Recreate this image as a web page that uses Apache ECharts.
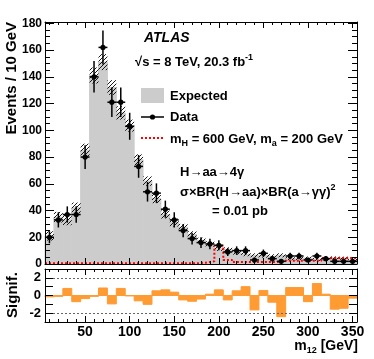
<!DOCTYPE html>
<html>
<head>
<meta charset="utf-8">
<script src="https://cdn.jsdelivr.net/npm/echarts@6/dist/echarts.min.js"></script>
<style>
  html, body { margin: 0; padding: 0; background: #fff; }
  #chart { width: 374px; height: 359px; }
</style>
</head>
<body>
<div id="chart"></div>
<script>
(function () {
  // bins of m12, 10 GeV wide
  var binCenters = [10, 20, 30, 40, 50, 60, 70, 80, 90, 100, 110, 120, 130, 140, 150, 160, 170, 180,
    190, 200, 210, 220, 230, 240, 250, 260, 270, 280, 290, 300, 310, 320, 330, 340, 350];
  var binWidth = 10;

  // observed events and their error bars
  var dataVals = [20, 33, 37, 37, 80, 140, 162, 121, 121, 103, 73, 54, 53, 41, 33, 25, 19, 16,
    15, 14, 9, 10, 10, 3, 8, 4, 2, 6, 6, 3, 6, 4, 2, 2, 2];
  var dataErr = [4.5, 5.7, 6.1, 6.1, 8.9, 11.8, 12.7, 11, 11, 10.1, 8.5, 7.3, 7.3, 6.4, 5.7, 5, 4.4, 4,
    3.9, 3.7, 3, 3.2, 3.2, 1.7, 2.8, 2, 1.4, 2.4, 2.4, 1.7, 2.4, 2, 1.4, 1.4, 1.4];

  // expected background and its uncertainty band
  var expVals = [21, 35, 33, 42, 85, 141, 151, 132, 113, 103.5, 78, 62, 49, 37, 31, 27.5, 22, 17.7,
    15, 11.8, 11, 8.5, 7.3, 6.5, 6.2, 5.8, 6.5, 4, 4, 4.4, 3.5, 3.9, 4.5, 4.3, 2.8];
  var expErr = [3.5, 4, 4, 4, 5, 6, 6, 5.5, 5, 4.5, 4, 3.5, 3.5, 3, 3, 2.5, 2.5, 2,
    2, 2, 1.5, 1.5, 1.5, 1.5, 1.5, 1.5, 1.5, 1.2, 1.2, 1.2, 1.2, 1.2, 1.2, 1.2, 1];

  // signal mH = 600 GeV, ma = 200 GeV
  var signalVals = [0.5, 0.5, 0.5, 0.5, 0.5, 0.5, 0.5, 0.5, 0.5, 0.5, 0.5, 0.5, 0.5, 0.5, 0.5, 0.5, 0.5, 1,
    2, 13.7, 3, 1.5, 1.5, 1.5, 1.5, 1.5, 2.5, 2.5, 2.5, 2.5, 2.5, 4.5, 4.5, 4.5, 4.5];

  // significance panel
  var sigVals = [-0.15, -0.1, 0.8, -0.7, -0.35, -0.1, 0.85, -0.95, 0.8, -0.05, -0.6, -1.0, 0.53, 0.64, 0.38, -0.5, -0.65, -0.4,
    0.15, 0.64, -0.5, 0.53, 1.0, -1.63, 0.57, -0.76, -2.4, 0.9, 0.9, -0.7, 1.36, 0.15, -1.55, -1.45, -0.3];
  var guideLevels = [2, -2];

  var FONT = "'Liberation Sans', Arial, Helvetica, sans-serif";

  var chartDom = document.getElementById('chart');
  var myChart = echarts.init(chartDom);

  // hatch pattern for the uncertainty band
  var hatch = document.createElement('canvas');
  hatch.width = 4;
  hatch.height = 4;
  var hc = hatch.getContext('2d');
  hc.strokeStyle = '#000';
  hc.lineWidth = 0.9;
  hc.beginPath();
  hc.moveTo(0, 4); hc.lineTo(4, 0);
  hc.moveTo(-1, 1); hc.lineTo(1, -1);
  hc.moveTo(3, 5); hc.lineTo(5, 3);
  hc.stroke();

  function renderFill(params, api) {
    var c = api.value(0);
    var p0 = api.coord([c - binWidth / 2, api.value(1)]);
    var p1 = api.coord([c + binWidth / 2, 0]);
    return {
      type: 'rect',
      shape: { x: p0[0], y: Math.min(p0[1], p1[1]), width: p1[0] - p0[0], height: Math.abs(p1[1] - p0[1]) },
      style: { fill: '#cccccc', stroke: '#cccccc', lineWidth: 1 }
    };
  }

  function renderBand(params, api) {
    var c = api.value(0);
    var p0 = api.coord([c - binWidth / 2, api.value(2)]);
    var p1 = api.coord([c + binWidth / 2, api.value(1)]);
    return {
      type: 'rect',
      shape: { x: p0[0], y: p0[1], width: p1[0] - p0[0], height: p1[1] - p0[1] },
      style: { fill: { image: hatch, repeat: 'repeat' } }
    };
  }

  function renderData(params, api) {
    var c = api.value(0), v = api.value(1), e = api.value(2);
    var pc = api.coord([c, v]);
    var pl = api.coord([c - binWidth / 2, v]);
    var pr = api.coord([c + binWidth / 2, v]);
    var pt = api.coord([c, v + e]);
    var pb = api.coord([c, Math.max(v - e, 0)]);
    var st = { stroke: '#000', lineWidth: 1.5 };
    return {
      type: 'group',
      children: [
        { type: 'line', shape: { x1: pl[0], y1: pc[1], x2: pr[0], y2: pc[1] }, style: st },
        { type: 'line', shape: { x1: pc[0], y1: pt[1], x2: pc[0], y2: pb[1] }, style: st },
        { type: 'circle', shape: { cx: pc[0], cy: pc[1], r: 2.6 }, style: { fill: '#000' } }
      ]
    };
  }

  function renderSig(params, api) {
    var c = api.value(0);
    var p0 = api.coord([c - binWidth / 2, api.value(1)]);
    var p1 = api.coord([c + binWidth / 2, 0]);
    return {
      type: 'rect',
      shape: { x: p0[0], y: Math.min(p0[1], p1[1]), width: p1[0] - p0[0], height: Math.abs(p1[1] - p0[1]) },
      style: { fill: '#ff9b33', stroke: '#ff9b33', lineWidth: 1 }
    };
  }

  // step outline for the signal histogram
  var signalSteps = [];
  binCenters.forEach(function (c, i) {
    signalSteps.push([c - binWidth / 2, signalVals[i]]);
    signalSteps.push([c + binWidth / 2, signalVals[i]]);
  });

  function xAxisCfg(grid, pos, showLabels) {
    return {
      type: 'value', gridIndex: grid, position: pos,
      min: 5, max: 355, splitNumber: 7, minInterval: 50, maxInterval: 50,
      axisLine: { show: true, onZero: false, lineStyle: { color: '#000', width: 1 } },
      axisTick: { show: true, inside: true, length: 6, lineStyle: { color: '#000' } },
      minorTick: { show: true, splitNumber: 5, length: 3, lineStyle: { color: '#000' } },
      splitLine: { show: false },
      axisLabel: {
        show: showLabels, margin: 3, color: '#000', fontFamily: FONT, fontWeight: 'bold', fontSize: 14,
        formatter: function (v) { return v % 50 === 0 ? v : ''; }
      },
      z: 10
    };
  }

  function yMainCfg(pos, showLabels) {
    return {
      type: 'value', gridIndex: 0, position: pos,
      min: 0, max: 181, interval: 20,
      axisLine: { show: true, onZero: false, lineStyle: { color: '#000', width: 1 } },
      axisTick: { show: true, inside: true, length: 9, lineStyle: { color: '#000' } },
      minorTick: { show: true, splitNumber: 4, length: 5, lineStyle: { color: '#000' } },
      splitLine: { show: false },
      axisLabel: {
        show: showLabels, margin: 3, color: '#000', fontFamily: FONT, fontWeight: 'bold', fontSize: 12,
        formatter: function (v) { return v % 20 === 0 ? v : ''; }
      },
      z: 10
    };
  }

  function ySigCfg(pos, showLabels) {
    return {
      type: 'value', gridIndex: 1, position: pos,
      min: -3, max: 3, interval: 1,
      axisLine: { show: true, onZero: false, lineStyle: { color: '#000', width: 1 } },
      axisTick: { show: true, inside: true, length: 8, lineStyle: { color: '#000' } },
      splitLine: { show: false },
      axisLabel: {
        show: showLabels, margin: 4, color: '#000', fontFamily: FONT, fontWeight: 'bold', fontSize: 13,
        formatter: function (v) { return v % 2 === 0 ? v : ''; }
      },
      z: 10
    };
  }

  var txt = { fill: '#000', font: 'bold 13px ' + FONT };

  var option = {
    animation: false,
    backgroundColor: '#fff',
    grid: [
      { left: 45, right: 17, top: 22, height: 242 },
      { left: 45, right: 17, top: 269, height: 53 }
    ],
    xAxis: [
      xAxisCfg(0, 'bottom', false),
      xAxisCfg(0, 'top', false),
      xAxisCfg(1, 'bottom', true),
      xAxisCfg(1, 'top', false)
    ],
    yAxis: [
      yMainCfg('left', true),
      yMainCfg('right', false),
      ySigCfg('left', true),
      ySigCfg('right', false)
    ],
    series: [
      {
        name: 'Expected', type: 'custom', xAxisIndex: 0, yAxisIndex: 0, z: 1, silent: true,
        renderItem: renderFill,
        data: binCenters.map(function (c, i) { return [c, expVals[i]]; })
      },
      {
        name: 'Uncertainty', type: 'custom', xAxisIndex: 0, yAxisIndex: 0, z: 2, silent: true,
        renderItem: renderBand,
        data: binCenters.map(function (c, i) { return [c, expVals[i] - expErr[i], expVals[i] + expErr[i]]; })
      },
      {
        name: 'Signal', type: 'line', xAxisIndex: 0, yAxisIndex: 0, z: 3, silent: true,
        showSymbol: false, symbol: 'none',
        lineStyle: { color: '#ff0000', width: 2, type: [2, 2] },
        data: signalSteps
      },
      {
        name: 'Data', type: 'custom', xAxisIndex: 0, yAxisIndex: 0, z: 4, silent: true,
        renderItem: renderData,
        data: binCenters.map(function (c, i) { return [c, dataVals[i], dataErr[i]]; })
      },
      {
        name: 'Signif.', type: 'custom', xAxisIndex: 2, yAxisIndex: 2, z: 2, silent: true,
        renderItem: renderSig,
        data: binCenters.map(function (c, i) { return [c, sigVals[i]]; }),
        markLine: {
          silent: true, symbol: 'none', label: { show: false },
          lineStyle: { color: '#666', type: [2, 2], width: 1 },
          data: guideLevels.map(function (v) { return { yAxis: v }; })
        }
      }
    ],
    graphic: [
      { type: 'text', x: 144, y: 38, style: { text: 'ATLAS', fill: '#000', font: 'italic bold 14px ' + FONT, textVerticalAlign: 'middle', verticalAlign: 'middle' } },
      {
        type: 'text', x: 135, y: 62,
        style: {
          text: '{a|√s = 8 TeV, 20.3 fb}{s|-1}', verticalAlign: 'middle', textVerticalAlign: 'middle',
          rich: {
            a: { fill: '#000', font: 'bold 13px ' + FONT, lineHeight: 18 },
            s: { fill: '#000', font: 'bold 9px ' + FONT, lineHeight: 9, verticalAlign: 'top' }
          }
        }
      },
      { type: 'rect', shape: { x: 141, y: 88, width: 23, height: 15 }, style: { fill: '#cccccc' } },
      { type: 'text', x: 170, y: 96, style: Object.assign({ text: 'Expected', verticalAlign: 'middle', textVerticalAlign: 'middle' }, txt) },
      { type: 'line', shape: { x1: 141, y1: 117, x2: 164, y2: 117 }, style: { stroke: '#000', lineWidth: 1.5 } },
      { type: 'circle', shape: { cx: 152.5, cy: 117, r: 2.6 }, style: { fill: '#000' } },
      { type: 'text', x: 170, y: 117, style: Object.assign({ text: 'Data', verticalAlign: 'middle', textVerticalAlign: 'middle' }, txt) },
      { type: 'line', shape: { x1: 141, y1: 138, x2: 164, y2: 138 }, style: { stroke: '#ff0000', lineWidth: 2, lineDash: [2, 2] } },
      {
        type: 'text', x: 170, y: 139,
        style: {
          text: '{a|m}{b|H}{a| = 600 GeV, m}{b|a}{a| = 200 GeV}', verticalAlign: 'middle', textVerticalAlign: 'middle',
          rich: {
            a: { fill: '#000', font: 'bold 13px ' + FONT, lineHeight: 18 },
            b: { fill: '#000', font: 'bold 9px ' + FONT, lineHeight: 9, verticalAlign: 'bottom' }
          }
        }
      },
      { type: 'text', x: 180, y: 172, style: Object.assign({ text: 'H→aa→4γ', verticalAlign: 'middle', textVerticalAlign: 'middle' }, txt) },
      {
        type: 'text', x: 180, y: 192,
        style: {
          text: '{a|σ×BR(H→aa)×BR(a→γγ)}{s|2}', verticalAlign: 'middle', textVerticalAlign: 'middle',
          rich: {
            a: { fill: '#000', font: 'bold 13px ' + FONT, lineHeight: 18 },
            s: { fill: '#000', font: 'bold 9px ' + FONT, lineHeight: 9, verticalAlign: 'top' }
          }
        }
      },
      { type: 'text', x: 212, y: 211, style: Object.assign({ text: '= 0.01 pb', verticalAlign: 'middle', textVerticalAlign: 'middle' }, txt) },
      {
        type: 'text', x: 12, y: 22, rotation: Math.PI / 2,
        style: { text: 'Events / 10 GeV', fill: '#000', font: 'bold 15px ' + FONT, align: 'right', textAlign: 'right', verticalAlign: 'middle', textVerticalAlign: 'middle' }
      },
      {
        type: 'text', x: 13, y: 295, rotation: Math.PI / 2,
        style: { text: 'Signif.', fill: '#000', font: 'bold 15px ' + FONT, align: 'center', textAlign: 'center', verticalAlign: 'middle', textVerticalAlign: 'middle' }
      },
      {
        type: 'text', x: 358, y: 346,
        style: {
          text: '{a|m}{b|12}{a| [GeV]}', align: 'right', textAlign: 'right', verticalAlign: 'middle', textVerticalAlign: 'middle',
          rich: {
            a: { fill: '#000', font: 'bold 14px ' + FONT, lineHeight: 18 },
            b: { fill: '#000', font: 'bold 9px ' + FONT, lineHeight: 9, verticalAlign: 'bottom' }
          }
        }
      }
    ]
  };

  myChart.setOption(option);

  window.addEventListener('resize', function () {
    myChart.resize();
  });
})();
</script>
</body>
</html>
